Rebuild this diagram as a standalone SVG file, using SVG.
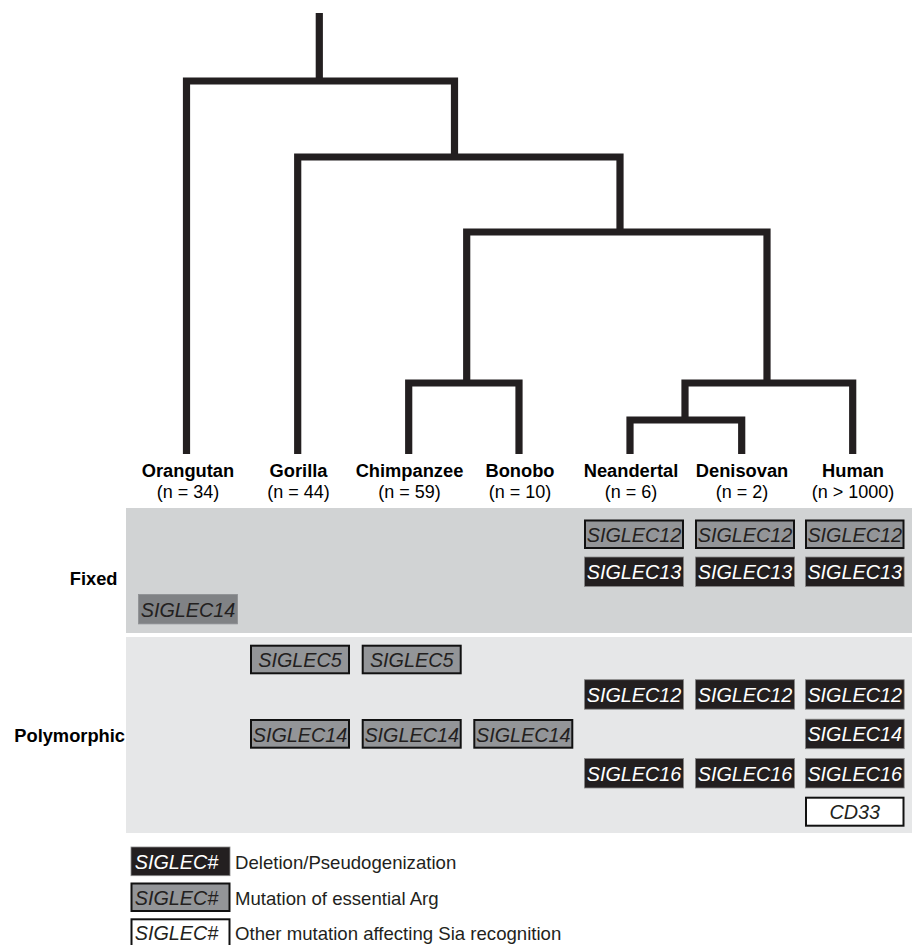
<svg xmlns="http://www.w3.org/2000/svg" width="912" height="945" viewBox="0 0 912 945">
<style>
.tree{fill:none;stroke:#231f20;stroke-width:7.2;stroke-linejoin:miter;stroke-linecap:butt}
.nm{font-family:"Liberation Sans",Arial,sans-serif;font-weight:bold;font-size:18.3px;fill:#000;text-anchor:middle}
.nn{font-family:"Liberation Sans",Arial,sans-serif;font-size:18px;fill:#000;text-anchor:middle}
.row{font-family:"Liberation Sans",Arial,sans-serif;font-weight:bold;font-size:18.3px;fill:#000;text-anchor:end}
.bt{font-family:"Liberation Sans",Arial,sans-serif;font-style:italic;font-size:19.8px;text-anchor:middle}
.blk rect{fill:#231f20;stroke:#8a8a8a;stroke-width:0.8}
.blk text{fill:#fff}
.gry rect{fill:#939598;stroke:#111;stroke-width:2}
.gry text{fill:#231f20}
.wht rect{fill:#fff;stroke:#111;stroke-width:2}
.wht text{fill:#231f20}
.fx rect{fill:#808285;stroke:#8f9194;stroke-width:0.8}
.fx text{fill:#231f20}
g text.lt{font-family:"Liberation Sans",Arial,sans-serif;font-size:18.6px;fill:#231f20;text-anchor:start}
</style>

<g id="panels">
<rect x="126" y="508" width="786" height="125" fill="#d1d3d4"/>
<rect x="126" y="637" width="786" height="196" fill="#e6e7e8"/>
</g>

<g id="connectors">
<path class="tree" d="M319.3,13 V81"/>
<path class="tree" d="M186.5,454 V81 H454.5 V157"/>
<path class="tree" d="M297.7,454 V157 H620 V232"/>
<path class="tree" d="M466.7,383 V232 H767 V383"/>
<path class="tree" d="M408.7,454 V383 H519 V454"/>
<path class="tree" d="M685,420 V383 H852.7 V454"/>
<path class="tree" d="M630,454 V420 H741.7 V454"/>
</g>

<g id="taxon-orangutan"><text class="nm" x="188" y="476.5">Orangutan</text><text class="nn" x="188" y="497.5">(n = 34)</text></g>
<g id="taxon-gorilla"><text class="nm" x="298.5" y="476.5">Gorilla</text><text class="nn" x="298.5" y="497.5">(n = 44)</text></g>
<g id="taxon-chimpanzee"><text class="nm" x="409.5" y="476.5">Chimpanzee</text><text class="nn" x="409.5" y="497.5">(n = 59)</text></g>
<g id="taxon-bonobo"><text class="nm" x="520" y="476.5">Bonobo</text><text class="nn" x="520" y="497.5">(n = 10)</text></g>
<g id="taxon-neandertal"><text class="nm" x="631" y="476.5">Neandertal</text><text class="nn" x="631" y="497.5">(n = 6)</text></g>
<g id="taxon-denisovan"><text class="nm" x="742" y="476.5">Denisovan</text><text class="nn" x="742" y="497.5">(n = 2)</text></g>
<g id="taxon-human"><text class="nm" x="853" y="476.5">Human</text><text class="nn" x="853" y="497.5">(n &gt; 1000)</text></g>

<g id="label-fixed"><text class="row" x="117.5" y="585">Fixed</text></g>
<g id="label-polymorphic"><text class="row" x="125" y="741.5">Polymorphic</text></g>

<g id="fixed-neandertal-siglec12" class="gry"><rect x="585" y="520.5" width="98" height="27.5"/><text class="bt" x="634" y="541.5">SIGLEC12</text></g>
<g id="fixed-denisovan-siglec12" class="gry"><rect x="696" y="520.5" width="98" height="27.5"/><text class="bt" x="745" y="541.5">SIGLEC12</text></g>
<g id="fixed-human-siglec12" class="gry"><rect x="806" y="520.5" width="97.5" height="27.5"/><text class="bt" x="854.7" y="541.5">SIGLEC12</text></g>
<g id="fixed-neandertal-siglec13" class="blk"><rect x="584.4" y="557" width="99.2" height="29.5"/><text class="bt" x="634" y="579">SIGLEC13</text></g>
<g id="fixed-denisovan-siglec13" class="blk"><rect x="695.4" y="557" width="99.2" height="29.5"/><text class="bt" x="745" y="579">SIGLEC13</text></g>
<g id="fixed-human-siglec13" class="blk"><rect x="805.4" y="557" width="98.8" height="29.5"/><text class="bt" x="854.7" y="579">SIGLEC13</text></g>
<g id="fixed-orangutan-siglec14" class="fx"><rect x="138.4" y="594.4" width="99.2" height="29.5"/><text class="bt" x="188" y="616.5">SIGLEC14</text></g>

<g id="poly-gorilla-siglec5" class="gry"><rect x="251" y="645.7" width="98" height="27.6"/><text class="bt" x="300" y="667">SIGLEC5</text></g>
<g id="poly-chimpanzee-siglec5" class="gry"><rect x="362.7" y="645.7" width="98" height="27.6"/><text class="bt" x="411.7" y="667">SIGLEC5</text></g>
<g id="poly-neandertal-siglec12" class="blk"><rect x="584.4" y="679.7" width="99.2" height="29.5"/><text class="bt" x="634" y="701.7">SIGLEC12</text></g>
<g id="poly-denisovan-siglec12" class="blk"><rect x="695.4" y="679.7" width="99.2" height="29.5"/><text class="bt" x="745" y="701.7">SIGLEC12</text></g>
<g id="poly-human-siglec12" class="blk"><rect x="805.4" y="679.7" width="98.8" height="29.5"/><text class="bt" x="854.7" y="701.7">SIGLEC12</text></g>
<g id="poly-gorilla-siglec14" class="gry"><rect x="251" y="720" width="98" height="27.7"/><text class="bt" x="300" y="741.5">SIGLEC14</text></g>
<g id="poly-chimpanzee-siglec14" class="gry"><rect x="362.7" y="720" width="98" height="27.7"/><text class="bt" x="411.7" y="741.5">SIGLEC14</text></g>
<g id="poly-bonobo-siglec14" class="gry"><rect x="474.3" y="720" width="98" height="27.7"/><text class="bt" x="523.3" y="741.5">SIGLEC14</text></g>
<g id="poly-human-siglec14" class="blk"><rect x="805.4" y="719.2" width="98.8" height="29.5"/><text class="bt" x="854.7" y="741.2">SIGLEC14</text></g>
<g id="poly-neandertal-siglec16" class="blk"><rect x="584.4" y="758.5" width="99.2" height="29.5"/><text class="bt" x="634" y="780.5">SIGLEC16</text></g>
<g id="poly-denisovan-siglec16" class="blk"><rect x="695.4" y="758.5" width="99.2" height="29.5"/><text class="bt" x="745" y="780.5">SIGLEC16</text></g>
<g id="poly-human-siglec16" class="blk"><rect x="805.4" y="758.5" width="98.8" height="29.5"/><text class="bt" x="854.7" y="780.5">SIGLEC16</text></g>
<g id="poly-human-cd33" class="wht"><rect x="806" y="797.7" width="97.5" height="28"/><text class="bt" x="854.7" y="819">CD33</text></g>

<g id="legend-deletion" class="blk"><rect x="131" y="847" width="99" height="28.7"/><text class="bt" x="176.5" y="868.5">SIGLEC#</text><text class="lt" x="235" y="868.5">Deletion/Pseudogenization</text></g>
<g id="legend-arg" class="gry"><rect x="131.5" y="883.5" width="98" height="27.5"/><text class="bt" x="176.5" y="904.5">SIGLEC#</text><text class="lt" x="235" y="904.5">Mutation of essential Arg</text></g>
<g id="legend-other" class="wht"><rect x="131.5" y="919.3" width="98" height="27.5"/><text class="bt" x="176.5" y="940">SIGLEC#</text><text class="lt" x="235" y="940">Other mutation affecting Sia recognition</text></g>
</svg>
